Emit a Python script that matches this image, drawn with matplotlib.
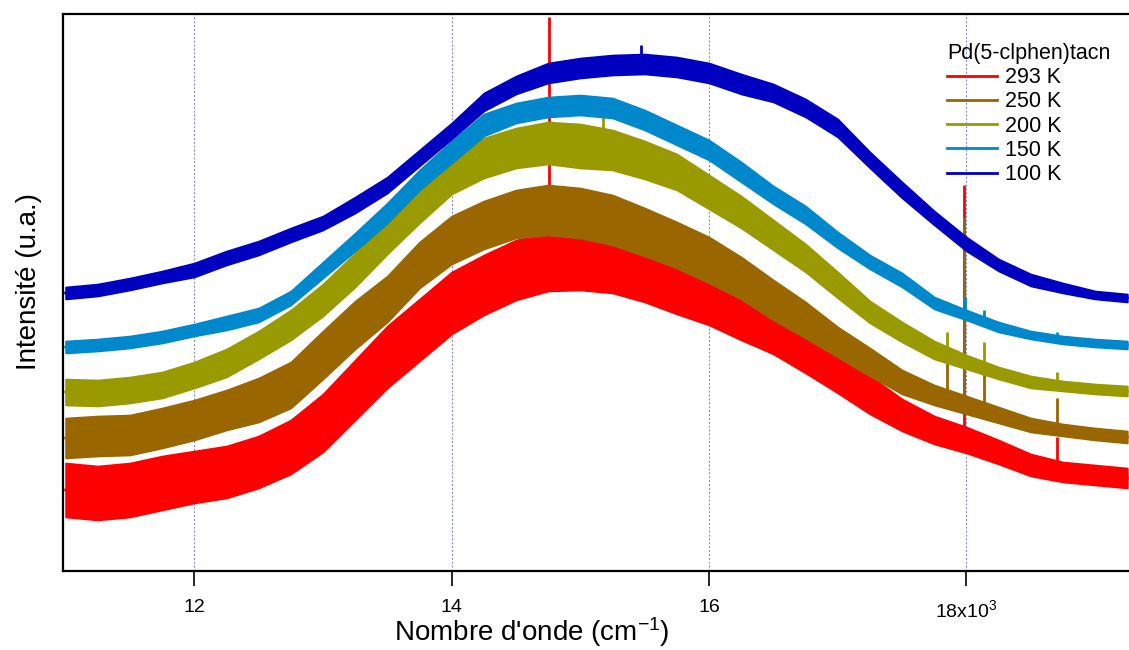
import matplotlib
matplotlib.use("Agg")
import matplotlib.pyplot as plt
import numpy as np

plt.rcParams["font.family"] = ["Liberation Sans", "DejaVu Sans"]
plt.rcParams["mathtext.fontset"] = "custom"
plt.rcParams["mathtext.rm"] = "Liberation Sans"
plt.rcParams["mathtext.it"] = "Liberation Sans"
plt.rcParams["mathtext.default"] = "regular"

# Wavenumber grid (cm-1)
wavenumber = [11000, 11250, 11500, 11750, 12000, 12250, 12500, 12750,
              13000, 13250, 13500, 13750, 14000, 14250, 14500, 14750,
              15000, 15250, 15500, 15750, 16000, 16250, 16500, 16750,
              17000, 17250, 17500, 17750, 18000, 18250, 18500, 18750,
              19000, 19250]

# Mean emission intensity (u.a.) for each temperature
i_293 = [81, 78, 81, 88, 94, 99, 109, 124, 148, 181, 214, 241, 268, 286, 301, 309,
         309, 306, 296, 283, 271, 256, 241, 221, 199, 176, 156, 141, 131, 119, 106, 99,
         96, 93]
i_250 = [133, 135, 136, 143, 151, 161, 171, 186, 216, 246, 272, 306, 331, 346, 357, 361,
         358, 351, 339, 326, 311, 293, 271, 251, 229, 209, 189, 176, 166, 156, 146, 141,
         137, 134]
i_200 = [179, 178, 181, 186, 196, 208, 226, 246, 271, 301, 334, 366, 396, 413, 423, 428,
         425, 421, 411, 399, 379, 359, 336, 313, 286, 259, 239, 221, 209, 198, 189, 185,
         182, 180]
i_150 = [224, 226, 229, 234, 241, 248, 256, 273, 301, 329, 358, 391, 419, 446, 458, 464,
         466, 463, 451, 436, 421, 399, 376, 356, 331, 309, 291, 268, 256, 244, 236, 231,
         228, 226]
i_100 = [278, 281, 287, 294, 301, 313, 323, 336, 348, 366, 386, 413, 440, 469, 486, 498,
         503, 506, 507, 504, 498, 487, 478, 463, 443, 411, 381, 353, 327, 306, 291, 283,
         276, 273]

# Half-amplitude of the measurement noise around each mean
n_293 = [27, 27, 27, 27, 26, 26, 26, 27, 29, 30, 31, 31, 31, 30, 30, 29,
         28, 28, 27, 26, 25, 25, 24, 23, 21, 19, 16, 14, 13, 12, 11, 10, 10, 10]
n_250 = [20, 20, 20, 20, 20, 20, 22, 23, 24, 24, 23, 23, 24, 24, 24, 25,
         25, 25, 24, 23, 23, 21, 20, 18, 15, 14, 12, 10, 9, 8, 7, 6, 6, 6]
n_200 = [13, 13, 13, 13, 13, 14, 14, 15, 16, 17, 17, 18, 19, 20, 20, 21,
         22, 20, 19, 18, 17, 16, 15, 14, 13, 11, 10, 9, 7, 6, 6, 5, 5, 5]
n_150 = [6, 6, 6, 6, 6, 7, 7, 7, 8, 9, 10, 10, 11, 11, 10, 10,
         10, 10, 10, 10, 10, 10, 9, 9, 8, 7, 7, 6, 5, 5, 4, 4, 4, 4]
n_100 = [6, 6, 6, 6, 7, 7, 7, 7, 7, 8, 8, 8, 8, 9, 9, 10,
         10, 10, 10, 10, 10, 10, 9, 9, 9, 8, 8, 7, 7, 6, 6, 5, 4, 4]

# Sharp spikes: (wavenumber, base intensity, peak intensity)
spk_293 = [(14760, 309, 554), (17980, 131, 386), (18700, 99, 134)]
spk_250 = [(17850, 168, 211), (17980, 166, 354), (18140, 160, 209), (18700, 141, 173)]
spk_200 = [(15175, 421, 459), (17850, 212, 239), (18140, 205, 229), (18700, 185, 199)]
spk_150 = [(17990, 256, 274), (18140, 247, 261), (18700, 231, 239)]
spk_100 = [(15470, 507, 526)]

labels = ["293 K", "250 K", "200 K", "150 K", "100 K"]
colors = ["#ff0000", "#996600", "#999900", "#0088cc", "#0000c0"]
means = [i_293, i_250, i_200, i_150, i_100]
noises = [n_293, n_250, n_200, n_150, n_100]
spikes = [spk_293, spk_250, spk_200, spk_150, spk_100]

fig = plt.figure(figsize=(11.29, 6.5), dpi=100)
ax = fig.add_axes([63 / 1129, 1 - 571 / 650, (1129 - 63) / 1129, 557 / 650])

wn = np.array(wavenumber, dtype=float)
for k, (lab, col, m, n, sp) in enumerate(zip(labels, colors, means, noises, spikes)):
    m = np.array(m, dtype=float)
    n = np.array(n, dtype=float)
    z = 3 + k
    ax.fill_between(wn, m - n, m + n, color=col, lw=1.2, zorder=z)
    ax.plot(wn, m, color=col, lw=2, label=lab, zorder=z)
    for x0, base, top in sp:
        ax.vlines(x0, base, top, color=col, lw=2, zorder=z)

ax.set_xlim(10980, 19263)
ax.set_ylim(0, 557)
ax.set_yticks([])
ax.set_xticks([12000, 14000, 16000, 18000])
ax.set_xticklabels(["12", "14", "16", "18x10$^{3}$"])
ax.tick_params(axis="x", direction="out", length=11, width=1.2, pad=9,
               labelsize=14, colors="black")

ax.set_axisbelow(True)
ax.grid(axis="x", color="#7777ff", linestyle=(0, (2, 2)), lw=0.7)

for side in ("left", "top", "bottom"):
    ax.spines[side].set_linewidth(1.6)
    ax.spines[side].set_color("black")
ax.spines["right"].set_visible(False)

ax.set_xlabel("Nombre d'onde (cm$^{-1}$)", fontsize=20)
ax.xaxis.set_label_coords((532 - 63) / 1066, -0.079)
ax.set_ylabel("Intensité (u.a.)", fontsize=20)
ax.yaxis.set_label_coords(-0.02, 0.519)

leg = ax.legend(title="Pd(5-clphen)tacn", loc="upper left",
                bbox_to_anchor=((947 - 63) / 1066, (571 - 43) / 557),
                frameon=False, fontsize=15.5, title_fontsize=15.5,
                handlelength=2.3, handletextpad=0.4, labelspacing=0.15,
                borderpad=0, borderaxespad=0, alignment="left")

fig.savefig("out.png", dpi=100)
